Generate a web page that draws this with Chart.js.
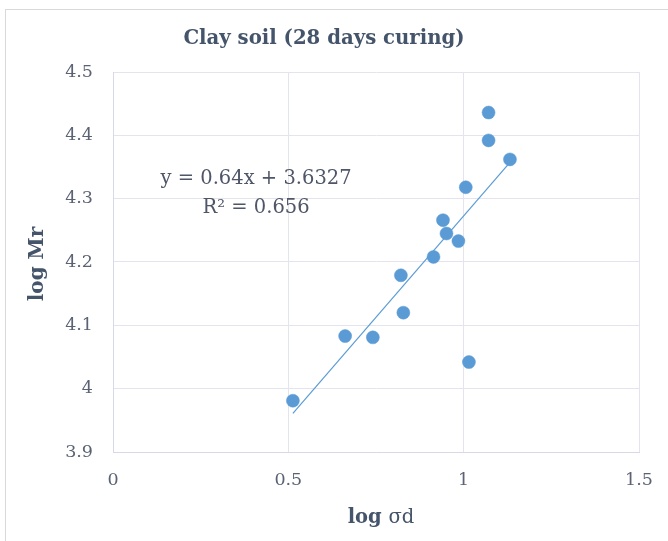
<!DOCTYPE html>
<html>
<head>
<meta charset="utf-8">
<script src="https://cdn.jsdelivr.net/npm/chart.js@4/dist/chart.umd.min.js"></script>
<style>
html,body{margin:0;padding:0;background:#fff;}
#wrap{width:668px;height:541px;position:relative;}
</style>
</head>
<body>
<div id="wrap"><canvas id="c" width="668" height="541"></canvas></div>
<script>
// ---- data ----
const logSigmaD = [0.513, 0.662, 0.741, 0.821, 0.828, 0.914, 0.941, 0.951, 0.985, 1.006, 1.015, 1.071, 1.071, 1.132];
const logMr     = [3.981, 4.083, 4.081, 4.179, 4.120, 4.208, 4.266, 4.245, 4.233, 4.318, 4.042, 4.436, 4.392, 4.362];
const trendSlope = 0.64;
const trendIntercept = 3.6327;
const rSquared = 0.656;
const xTicks = [0, 0.5, 1, 1.5];
const yTicks = [3.9, 4, 4.1, 4.2, 4.3, 4.4, 4.5];
const titleText = 'Clay soil (28 days curing)';
const xTitleBold = 'log';
const xTitleRest = 'σd';
const yTitleText = 'log Mr';

const points = logSigmaD.map((x, i) => ({x: x, y: logMr[i]}));
const xMin = Math.min(...logSigmaD), xMax = Math.max(...logSigmaD);
const trend = [xMin, xMax].map(x => ({x: x, y: trendSlope * x + trendIntercept}));

const SERIF = '"DejaVu Serif", "Liberation Serif", serif';
const TXT = '#44546A';
const TICK = '#5a6274';

const overlay = {
  id: 'overlay',
  afterDraw(chart) {
    const ctx = chart.ctx;
    const xs = chart.scales.x, ys = chart.scales.y;
    ctx.save();
    // outer frame
    ctx.strokeStyle = '#d9d9d9';
    ctx.lineWidth = 1;
    ctx.strokeRect(5.5, 9.5, 700, 600);
    // title
    ctx.fillStyle = TXT;
    ctx.font = 'bold 19.7px ' + SERIF;
    ctx.textAlign = 'center';
    ctx.textBaseline = 'middle';
    ctx.fillText(titleText, 324, 39);
    // x axis title
    ctx.font = 'bold 19.5px ' + SERIF;
    const wb = ctx.measureText(xTitleBold + ' ').width;
    ctx.font = '19.5px ' + SERIF;
    const wr = ctx.measureText(xTitleRest).width;
    let sx = 381 - (wb + wr) / 2;
    ctx.textAlign = 'left';
    ctx.textBaseline = 'alphabetic';
    ctx.font = 'bold 19.5px ' + SERIF;
    ctx.fillText(xTitleBold + ' ', sx, 523);
    ctx.font = '19.5px ' + SERIF;
    ctx.fillText(xTitleRest, sx + wb, 523);
    // y axis title
    ctx.save();
    ctx.translate(38, 264);
    ctx.rotate(-Math.PI / 2);
    ctx.font = 'bold 20px ' + SERIF;
    ctx.textAlign = 'center';
    ctx.textBaseline = 'middle';
    ctx.fillText(yTitleText, 0, 0);
    ctx.restore();
    // trendline equation
    ctx.fillStyle = '#4f5668';
    ctx.font = '19.5px ' + SERIF;
    ctx.textAlign = 'center';
    ctx.textBaseline = 'middle';
    const ex = xs.getPixelForValue(0.408);
    ctx.fillText('y = ' + trendSlope + 'x + ' + trendIntercept, ex, ys.getPixelForValue(4.331));
    ctx.fillText('R² = ' + rSquared, ex, ys.getPixelForValue(4.285));
    ctx.restore();
  }
};

new Chart(document.getElementById('c'), {
  type: 'scatter',
  data: {
    datasets: [
      {
        label: 'data',
        data: points,
        backgroundColor: '#5B9BD5',
        borderColor: '#5B9BD5',
        borderWidth: 0.5,
        pointRadius: 6.5,
        pointHoverRadius: 6.5,
        order: 1
      },
      {
        label: 'trend',
        type: 'line',
        data: trend,
        borderColor: '#5B9BD5',
        borderWidth: 1.2,
        pointRadius: 0,
        fill: false,
        tension: 0,
        order: 2
      }
    ]
  },
  options: {
    responsive: false,
    animation: false,
    events: [],
    layout: {padding: {left: 0, right: 29, top: 72, bottom: 0}},
    plugins: {legend: {display: false}, title: {display: false}, tooltip: {enabled: false}},
    scales: {
      x: {
        type: 'linear',
        min: 0, max: 1.5,
        afterBuildTicks: s => { s.ticks = xTicks.map(v => ({value: v})); },
        afterFit: s => { s.height = 89; s.paddingLeft = 5; s.paddingRight = 5; },
        grid: {color: '#e4e4ef', lineWidth: 1, drawTicks: false},
        border: {color: '#d9d9e6'},
        ticks: {color: TICK, font: {family: SERIF, size: 17.5}, padding: 18, callback: v => String(v)}
      },
      y: {
        type: 'linear',
        min: 3.9, max: 4.5,
        afterBuildTicks: s => { s.ticks = yTicks.map(v => ({value: v})); },
        afterFit: s => { s.width = 113; },
        grid: {color: '#e4e4ef', lineWidth: 1, drawTicks: false},
        border: {color: '#d9d9e6'},
        ticks: {color: TICK, font: {family: SERIF, size: 17.5}, padding: 20, callback: v => String(v)}
      }
    }
  },
  plugins: [overlay]
});
</script>
</body>
</html>
